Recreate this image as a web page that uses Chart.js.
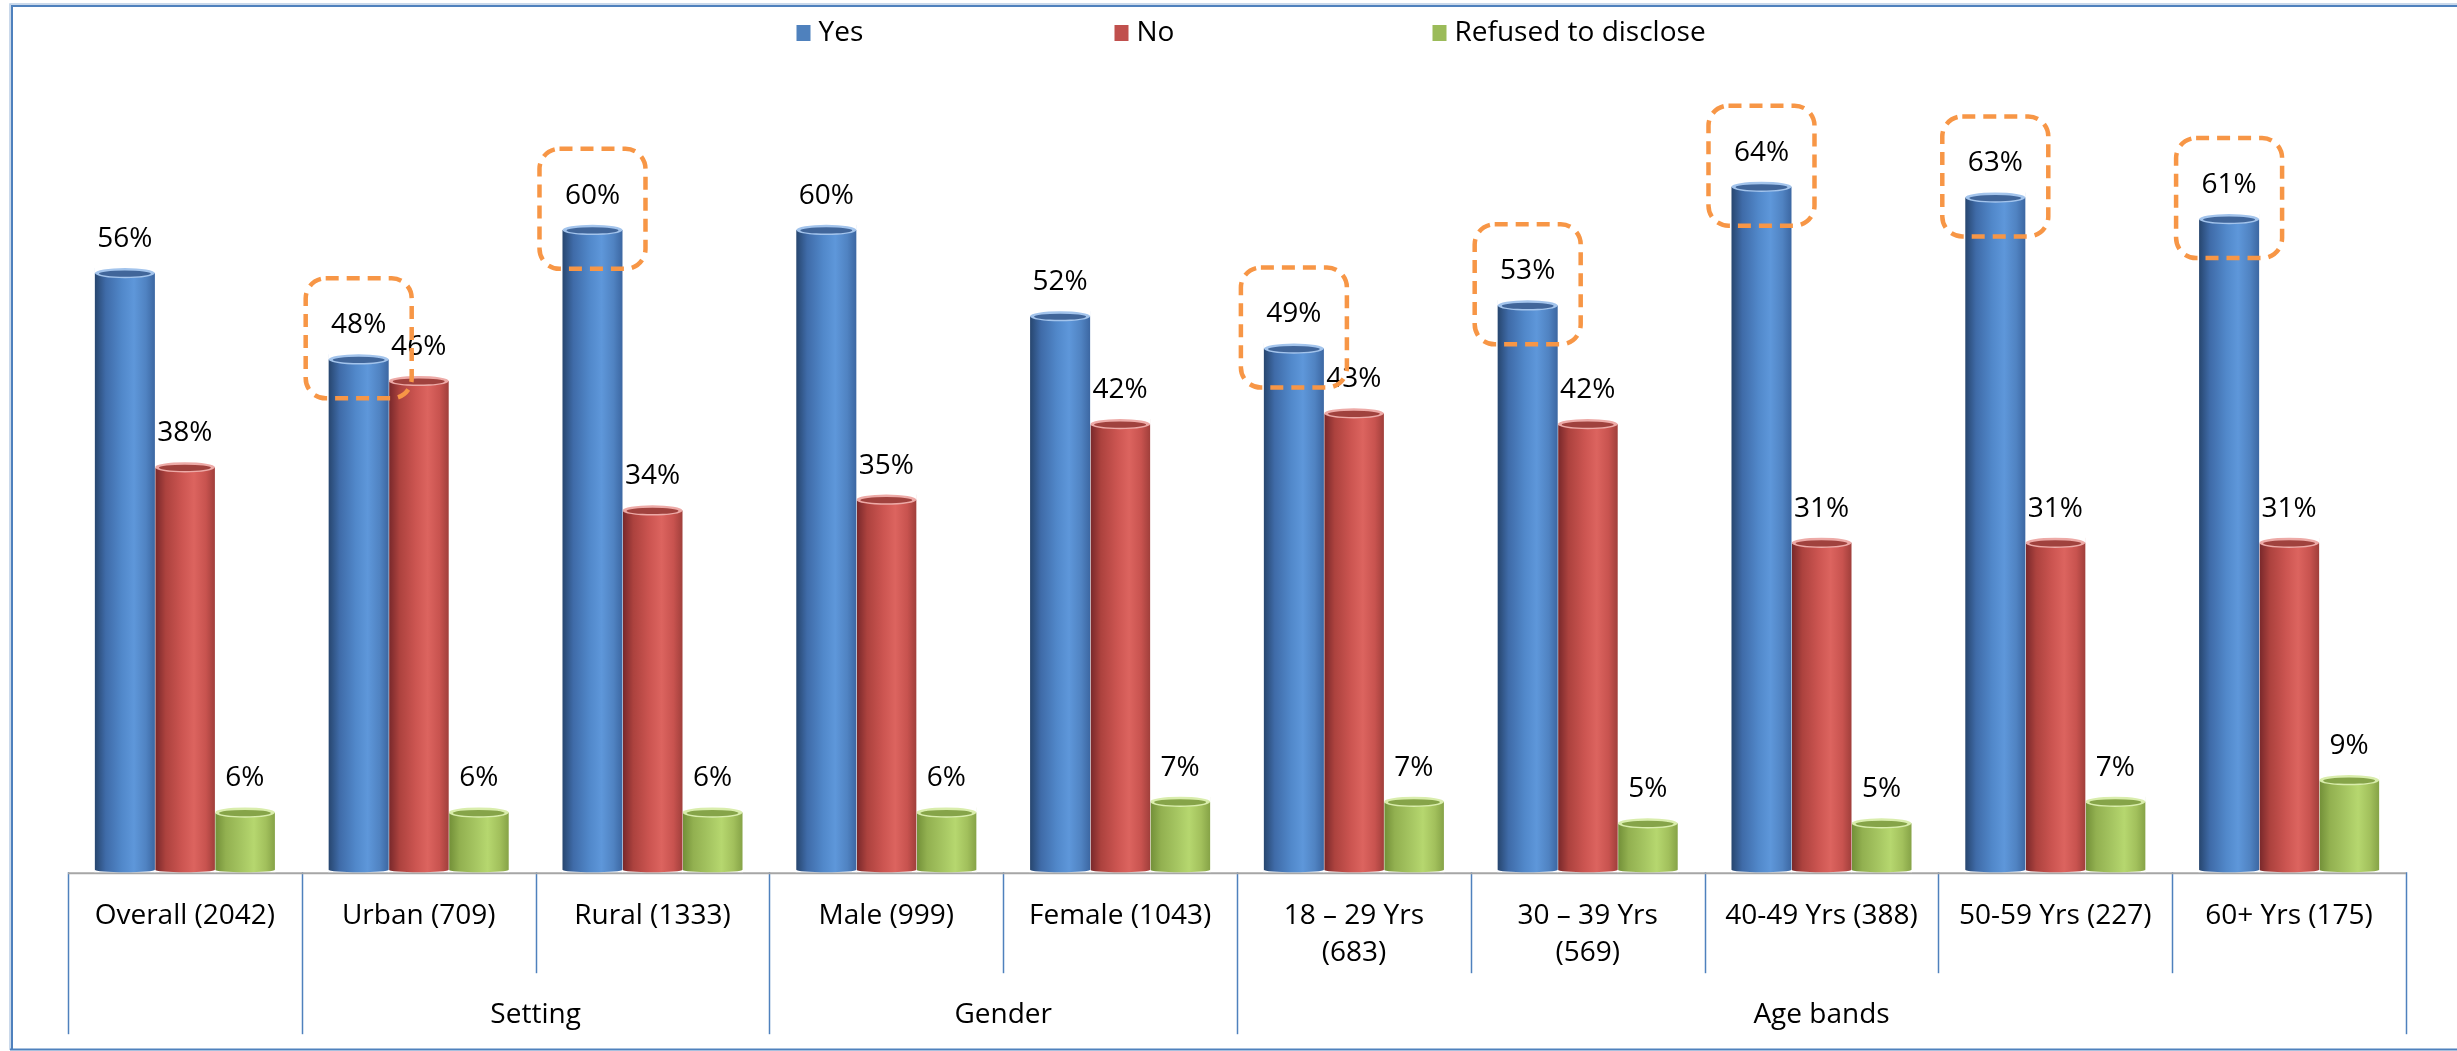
<!DOCTYPE html>
<html>
<head>
<meta charset="utf-8">
<script src="https://cdn.jsdelivr.net/npm/chart.js@4/dist/chart.umd.min.js"></script>
<style>
  html, body { margin: 0; padding: 0; background: #ffffff; }
  #wrap { width: 2457px; height: 1051px; position: relative; }
  canvas { display: block; }
</style>
</head>
<body>
<div id="wrap"><canvas id="c" width="2457" height="1051"></canvas></div>
<script>
// ---- Data ----
const categories = [
  'Overall (2042)', 'Urban (709)', 'Rural (1333)', 'Male (999)', 'Female (1043)',
  ['18 – 29 Yrs', '(683)'], ['30 – 39 Yrs', '(569)'], '40-49 Yrs (388)', '50-59 Yrs (227)', '60+ Yrs (175)'
];
const seriesNames = ['Yes', 'No', 'Refused to disclose'];
const yesValues = [56, 48, 60, 60, 52, 49, 53, 64, 63, 61];
const noValues = [38, 46, 34, 35, 42, 43, 42, 31, 31, 31];
const refusedValues = [6, 6, 6, 6, 7, 7, 5, 5, 7, 9];
const highlightedYes = [false, true, true, false, false, true, true, true, true, true];
const groupLabels = ['', 'Setting', 'Gender', 'Age bands'];
const groupSpans = [1, 2, 2, 5];

// ---- Styles ----
const FONT = "'Open Sans', 'Noto Sans', sans-serif";
const baseColors = ['#4F81BD', '#C0504D', '#9BBB59'];
const cylStops = [
  ['#27466F', '#3F6BA8', '#5188CA', '#5E97DA', '#5083C2', '#3C67A2'],
  ['#76272A', '#AC423E', '#CC5551', '#DC645F', '#C8534F', '#A03F3B'],
  ['#718E37', '#92B050', '#A6C662', '#B6D76F', '#A2C05C', '#86A347']
];
const rimColors = ['#A3C4EC', '#EDAAA7', '#D9EDAC'];
const innerTop = ['#41669A', '#A0423E', '#86A449'];

const cylinderPlugin = {
  id: 'cylinders',
  afterDatasetDraw(chart, args) {
    const ctx = chart.ctx;
    const i = args.index;
    const meta = args.meta;
    ctx.save();
    meta.data.forEach((bar) => {
      const w = bar.width, x0 = bar.x - w / 2, x1 = bar.x + w / 2;
      const ry = Math.max(3, w * 0.085);
      const top = bar.y + ry, base = bar.base;
      const g = ctx.createLinearGradient(x0, 0, x1, 0);
      const st = cylStops[i];
      [0, 0.18, 0.45, 0.65, 0.85, 1].forEach((p, k) => g.addColorStop(p, st[k]));
      ctx.fillStyle = '#ffffff';
      ctx.fillRect(x0 - 0.5, bar.y - 1, w + 1, base - bar.y + 1);
      ctx.fillStyle = g;
      ctx.beginPath();
      ctx.moveTo(x0, top);
      ctx.lineTo(x0, base - ry * 0.5);
      ctx.ellipse(bar.x, base - ry * 0.5, w / 2, ry * 0.5, 0, Math.PI, 0, true);
      ctx.lineTo(x1, top);
      ctx.closePath();
      ctx.fill();
      ctx.beginPath();
      ctx.ellipse(bar.x, top, w / 2, ry, 0, 0, Math.PI * 2);
      ctx.fillStyle = rimColors[i];
      ctx.fill();
      ctx.beginPath();
      ctx.ellipse(bar.x, top + 0.5, w / 2 - 4, ry - 2, 0, 0, Math.PI * 2);
      ctx.fillStyle = innerTop[i];
      ctx.fill();
    });
    ctx.restore();
  }
};

const decorPlugin = {
  id: 'decor',
  beforeDatasetsDraw(chart) {
    const ctx = chart.ctx;
    const xs = chart.scales.x;
    const area = chart.chartArea;
    const n = categories.length;
    const step = (xs.getPixelForValue(n - 1) - xs.getPixelForValue(0)) / (n - 1);
    ctx.save();
    const groupEdges = new Set();
    let acc = 0;
    groupEdges.add(0);
    groupSpans.forEach(s => { acc += s; groupEdges.add(acc); });
    for (let k = 0; k <= n; k++) {
      const x = Math.round(xs.getPixelForValue(0) - step / 2 + k * step) + 0.5;
      const long = groupEdges.has(k);
      ctx.strokeStyle = '#4F81BD';
      ctx.lineWidth = 1.5;
      ctx.beginPath();
      ctx.moveTo(x, area.bottom);
      ctx.lineTo(x, area.bottom + (long ? 162 : 101));
      ctx.stroke();
    }
    ctx.fillStyle = '#000000';
    ctx.font = '28px ' + FONT;
    ctx.textAlign = 'center';
    ctx.textBaseline = 'middle';
    let start = 0;
    groupSpans.forEach((s, gi) => {
      const cx = (xs.getPixelForValue(start) + xs.getPixelForValue(start + s - 1)) / 2;
      if (groupLabels[gi]) ctx.fillText(groupLabels[gi], cx, area.bottom + 143);
      start += s;
    });
    ctx.strokeStyle = '#A6A6A6';
    ctx.lineWidth = 2;
    ctx.beginPath();
    ctx.moveTo(area.left, area.bottom + 1);
    ctx.lineTo(area.right, area.bottom + 1);
    ctx.stroke();
    ctx.restore();
  },
  afterDatasetsDraw(chart) {
    const ctx = chart.ctx;
    ctx.save();
    ctx.fillStyle = '#000000';
    ctx.font = '28px ' + FONT;
    ctx.textAlign = 'center';
    ctx.textBaseline = 'middle';
    chart.data.datasets.forEach((ds, di) => {
      const meta = chart.getDatasetMeta(di);
      meta.data.forEach((bar, j) => {
        ctx.fillText(ds.data[j] + '%', bar.x, bar.y - 29);
      });
    });
    const yesMeta = chart.getDatasetMeta(0);
    ctx.strokeStyle = '#F79646';
    ctx.lineWidth = 4.5;
    ctx.setLineDash([13, 8]);
    yesMeta.data.forEach((bar, j) => {
      if (!highlightedYes[j]) return;
      const bw = 106, top = bar.y - 76, h = 120;
      ctx.beginPath();
      ctx.roundRect(bar.x - bw / 2, top, bw, h, 20);
      ctx.stroke();
    });
    ctx.setLineDash([]);
    ctx.restore();
  },
  afterDraw(chart) {
    const ctx = chart.ctx;
    ctx.save();
    const slot = 318;
    const startX = chart.width / 2 - 432;
    const ly = 33;
    ctx.font = '28px ' + FONT;
    ctx.textBaseline = 'middle';
    ctx.textAlign = 'left';
    chart.data.datasets.forEach((ds, di) => {
      const x = startX + di * slot;
      ctx.fillStyle = baseColors[di];
      ctx.fillRect(x, ly - 8, 14, 16);
      ctx.fillStyle = '#000000';
      ctx.fillText(ds.label, x + 22, ly);
    });
    ctx.strokeStyle = '#B9CDE5';
    ctx.lineWidth = 1.5;
    ctx.beginPath();
    ctx.moveTo(10, 1050); ctx.lineTo(10, 4); ctx.lineTo(2457, 4);
    ctx.stroke();
    ctx.strokeStyle = '#4F81BD';
    ctx.lineWidth = 2;
    ctx.beginPath();
    ctx.moveTo(12, 1049); ctx.lineTo(12, 6); ctx.lineTo(2457, 6);
    ctx.stroke();
    ctx.beginPath();
    ctx.moveTo(10, 1049.5); ctx.lineTo(2457, 1049.5);
    ctx.stroke();
    ctx.restore();
  }
};

new Chart(document.getElementById('c'), {
  type: 'bar',
  data: {
    labels: categories,
    datasets: [
      { label: seriesNames[0], data: yesValues, backgroundColor: baseColors[0] },
      { label: seriesNames[1], data: noValues, backgroundColor: baseColors[1] },
      { label: seriesNames[2], data: refusedValues, backgroundColor: baseColors[2] }
    ]
  },
  options: {
    responsive: false,
    devicePixelRatio: 1,
    animation: false,
    categoryPercentage: 0.77,
    barPercentage: 1.0,
    layout: { padding: { left: 68, right: 51, top: 63, bottom: 54 } },
    plugins: { legend: { display: false }, tooltip: { enabled: false } },
    scales: {
      x: {
        display: true,
        grid: { display: false, drawTicks: false },
        border: { display: false },
        ticks: {
          color: '#000000',
          font: { family: FONT, size: 28, lineHeight: 1.3 },
          padding: 26,
          maxRotation: 0,
          minRotation: 0,
          autoSkip: false
        }
      },
      y: { display: false, min: 0, max: 75 }
    }
  },
  plugins: [cylinderPlugin, decorPlugin]
});
</script>
</body>
</html>
